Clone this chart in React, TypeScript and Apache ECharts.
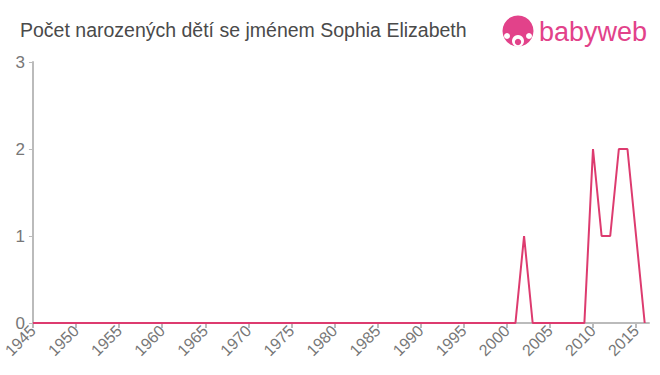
import React, { useEffect, useRef } from "react";
import * as echarts from "echarts";

const years: number[] = [];
for (let y = 1945; y <= 2016; y++) years.push(y);
const nonZero: Record<number, number> = { 2002: 1, 2010: 2, 2011: 1, 2012: 1, 2013: 2, 2014: 2, 2015: 1 };
const counts: number[] = years.map((y) => nonZero[y] ?? 0);
const yTicks = [0, 1, 2, 3];
const title = "Počet narozených dětí se jménem Sophia Elizabeth";

export default function App() {
  const ref = useRef<HTMLDivElement>(null);
  useEffect(() => {
    if (!ref.current) return;
    const chart = echarts.init(ref.current, null, { renderer: "svg" });
    const pink = "#dd3b6f";
    const logoPink = "#e2428a";
    const font = "Liberation Sans, Arial, sans-serif";
    chart.setOption({
      animation: false,
      title: {
        text: title,
        left: 20,
        top: 20,
        padding: 0,
        textStyle: { fontFamily: font, fontSize: 19.5, fontWeight: "normal", color: "#4a4a4a" },
      },
      graphic: [
        { type: "circle", shape: { cx: 518, cy: 31, r: 15.5 }, style: { fill: logoPink } },
        { type: "circle", shape: { cx: 518, cy: 41, r: 6 }, style: { fill: "#fff" } },
        { type: "circle", shape: { cx: 507, cy: 36, r: 3 }, style: { fill: "#fff" } },
        { type: "circle", shape: { cx: 529, cy: 36, r: 3 }, style: { fill: "#fff" } },
        { type: "circle", shape: { cx: 518, cy: 42, r: 3.2 }, style: { fill: logoPink } },
        {
          type: "text",
          x: 539,
          y: 18,
          style: { text: "babyweb", fill: logoPink, fontSize: 27, fontFamily: font },
        },
      ],
      grid: { left: 25, right: 11, top: 62, bottom: 52, containLabel: false },
      xAxis: {
        type: "value",
        min: 1945,
        max: 2016.5,
        interval: 5,
        axisLine: { lineStyle: { color: "#bbb", width: 2 } },
        axisTick: { show: true, lineStyle: { color: "#bbb", width: 2 }, length: 5 },
        splitLine: { show: false },
        axisLabel: {
          rotate: 45,
          color: "#777",
          fontSize: 16,
          fontFamily: font,
          margin: 5,
          showMaxLabel: false,
          formatter: (v: number) => String(v),
        },
      },
      yAxis: {
        type: "value",
        min: 0,
        max: 3,
        interval: 1,
        axisLine: { show: true, lineStyle: { color: "#bbb", width: 2 } },
        axisTick: { show: true, lineStyle: { color: "#bbb", width: 1 }, length: 4 },
        splitLine: { show: false },
        axisLabel: {
          color: "#777",
          fontSize: 17,
          fontFamily: font,
          margin: 8,
          formatter: (v: number) => (yTicks.includes(v) ? String(v) : ""),
        },
      },
      series: [
        {
          type: "line",
          data: years.map((y, i) => [y, counts[i]]),
          showSymbol: false,
          symbol: "none",
          lineStyle: { color: pink, width: 2 },
        },
      ],
    });
    return () => chart.dispose();
  }, []);
  return <div ref={ref} style={{ width: 660, height: 375, position: "absolute", left: 0, top: 0 }} />;
}
